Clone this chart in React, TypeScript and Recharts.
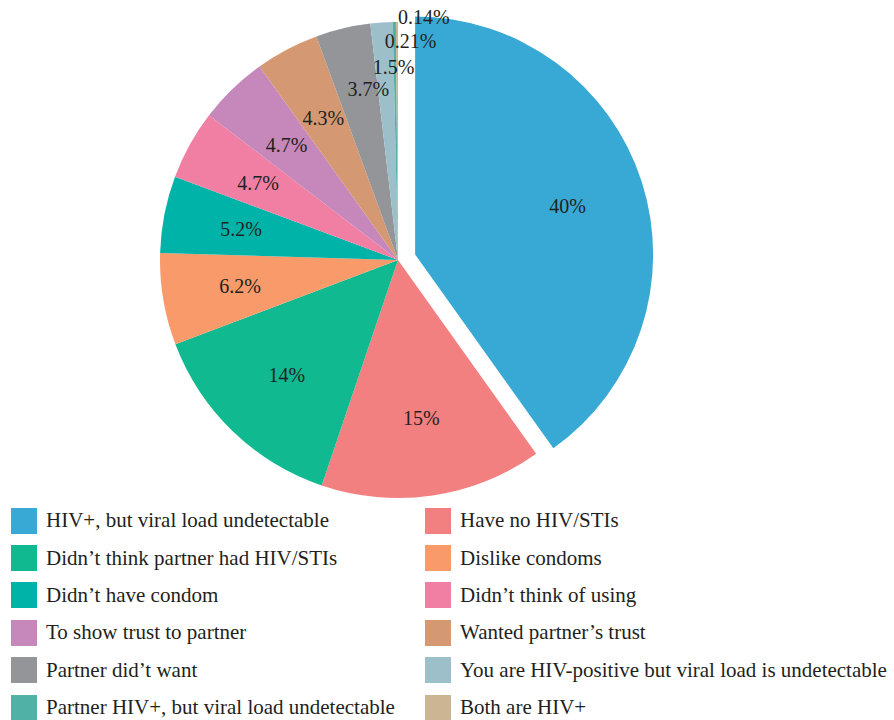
import React from "react";
import { PieChart, Pie, Cell, Legend } from "recharts";

const categories = [
  "HIV+, but viral load undetectable",
  "Have no HIV/STIs",
  "Didn\u2019t think partner had HIV/STIs",
  "Dislike condoms",
  "Didn\u2019t have condom",
  "Didn\u2019t think of using",
  "To show trust to partner",
  "Wanted partner\u2019s trust",
  "Partner did\u2019t want",
  "You are HIV-positive but viral load is undetectable",
  "Partner HIV+, but viral load undetectable",
  "Both are HIV+",
];

const values = [40, 15, 14, 6.2, 5.2, 4.7, 4.7, 4.3, 3.7, 1.5, 0.21, 0.14];

const colors = [
  "#38a9d4",
  "#f28080",
  "#10b990",
  "#f89a6a",
  "#00b3a8",
  "#f07fa3",
  "#c687ba",
  "#d49872",
  "#939598",
  "#9dbfca",
  "#50b1a7",
  "#cbb592",
];

const data = categories.map((name, i) => ({ name, value: values[i] }));

const CX = 398;
const CY = 260;
const R = 238;
const EXPLODE = 18;
const RAD = Math.PI / 180;
const FONT = "'Liberation Serif', 'DejaVu Serif', serif";
const TEXT = "#231f20";

// label radius / nudge for the thin slices at the top
const labelTweak: Record<number, [number, number]> = {
  8: [176, 11],
  9: [193, 9],
  10: [219, 16],
  11: [243, 27],
};

const total = values.reduce((a, b) => a + b, 0);
// first slice mid angle, clockwise from 12 o'clock
const firstMid = ((values[0] / total) * 360) / 2;
const ECX = CX + EXPLODE * Math.sin(firstMid * RAD);
const ECY = CY - EXPLODE * Math.cos(firstMid * RAD);

const renderLabel = (props: any) => {
  const { cx, cy, midAngle, index, value } = props;
  const [r, dx] = labelTweak[index] || [160, 0];
  const x = cx + r * Math.cos(-midAngle * RAD) + dx;
  const y = cy + r * Math.sin(-midAngle * RAD);
  return (
    <text
      x={x}
      y={y}
      fill={TEXT}
      fontSize={20}
      fontFamily={FONT}
      textAnchor="middle"
      dominantBaseline="central"
    >
      {`${value}%`}
    </text>
  );
};

const renderLegend = () => (
  <div
    style={{
      display: "grid",
      gridTemplateColumns: "414px 480px",
      fontFamily: FONT,
      fontSize: 21,
      color: TEXT,
    }}
  >
    {categories.map((name, i) => (
      <div
        key={name}
        style={{ display: "flex", alignItems: "center", height: 37.4, paddingLeft: 11 }}
      >
        <span
          style={{
            width: 26,
            height: 26,
            background: colors[i],
            marginRight: 9,
            flexShrink: 0,
          }}
        />
        <span style={{ whiteSpace: "nowrap" }}>{name}</span>
      </div>
    ))}
  </div>
);

export default function App() {
  return (
    <div style={{ position: "absolute", left: 0, top: 0, background: "#fff" }}>
      <PieChart width={894} height={720} margin={{ top: 0, right: 0, bottom: 0, left: 0 }}>
        <Pie
          data={data}
          dataKey="value"
          nameKey="name"
          cx={CX}
          cy={CY}
          outerRadius={R}
          startAngle={90}
          endAngle={-270}
          label={(p: any) => (p.index === 0 ? null : renderLabel(p))}
          labelLine={false}
          stroke="none"
          isAnimationActive={false}
        >
          {data.map((d, i) => (
            <Cell key={d.name} fill={i === 0 ? "transparent" : colors[i]} />
          ))}
        </Pie>
        <Pie
          data={data}
          dataKey="value"
          nameKey="name"
          cx={ECX}
          cy={ECY}
          outerRadius={R}
          startAngle={90}
          endAngle={-270}
          label={(p: any) => (p.index === 0 ? renderLabel(p) : null)}
          labelLine={false}
          stroke="none"
          isAnimationActive={false}
        >
          {data.map((d, i) => (
            <Cell key={d.name} fill={i === 0 ? colors[0] : "transparent"} />
          ))}
        </Pie>
        <Legend
          content={renderLegend}
          wrapperStyle={{ position: "absolute", left: 0, top: 502, width: 894 }}
        />
      </PieChart>
    </div>
  );
}
